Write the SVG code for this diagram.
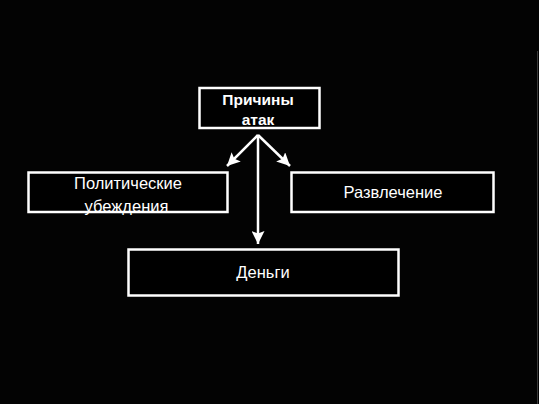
<svg xmlns="http://www.w3.org/2000/svg" width="539" height="404" viewBox="0 0 539 404">
<defs>
<marker id="ah" markerWidth="13" markerHeight="13" refX="10" refY="5" orient="auto" markerUnits="userSpaceOnUse" viewBox="0 0 10 10">
<path d="M0,0 L10,5 L0,10 L2,5 Z" fill="#fff"/>
</marker>
</defs>
<style>
.box{fill:#000;stroke:#fff;stroke-width:2.5}
.t{font-family:"Liberation Sans",Arial,sans-serif;font-size:16.5px;fill:#fff;text-anchor:middle}
.b{font-weight:bold;font-size:15.5px}
.c{stroke:#fff;stroke-width:2.5;fill:none}
</style>
<rect width="539" height="404" fill="#030303"/>
<line x1="537.5" y1="51" x2="537.5" y2="404" stroke="#3a3a3a" stroke-width="1"/>
<g id="connectors">
<line class="c" x1="258" y1="135" x2="227" y2="166" marker-end="url(#ah)"/>
<line class="c" x1="258" y1="135" x2="290" y2="166" marker-end="url(#ah)"/>
<line class="c" x1="258" y1="135" x2="258" y2="244" marker-end="url(#ah)"/>
</g>
<g id="n1">
<rect class="box" x="199.5" y="88" width="120" height="40"/>
<text class="t b" x="258" y="105">Причины</text>
<text class="t b" x="258" y="125">атак</text>
</g>
<g id="n2">
<rect class="box" x="28.5" y="172.5" width="199" height="39.5"/>
<text class="t" x="128" y="189">Политические</text>
<text class="t" x="126.5" y="212">убеждения</text>
</g>
<g id="n3">
<rect class="box" x="291.5" y="172.5" width="202" height="39.5"/>
<text class="t" x="393" y="198">Развлечение</text>
</g>
<g id="n4">
<rect class="box" x="128.5" y="249.5" width="270" height="46"/>
<text class="t" x="263" y="278">Деньги</text>
</g>
</svg>
